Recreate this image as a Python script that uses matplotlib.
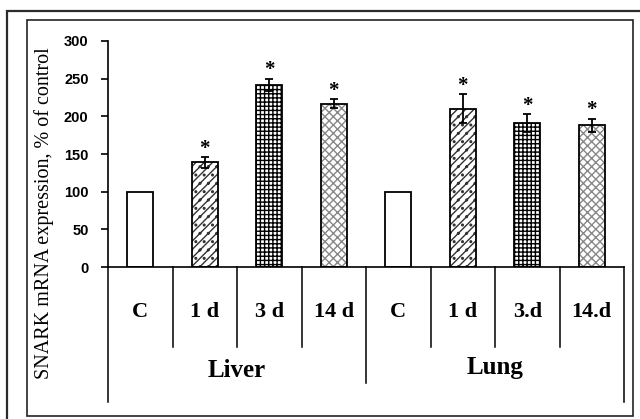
import matplotlib
matplotlib.use('Agg')
import matplotlib.pyplot as plt
from matplotlib.patches import Rectangle

# SNARK mRNA expression (% of control) in liver and lung
groups = ['Liver', 'Lung']
times = ['C', '1 d', '3 d', '14 d']
lung_times = ['C', '1 d', '3.d', '14.d']
liver_vals = [100, 139, 242, 217]
liver_err = [0, 7, 8, 6]
lung_vals = [100, 210, 191, 188]
lung_err = [0, 19, 12, 9]
significant = [False, True, True, True]

values = liver_vals + lung_vals
errors = liver_err + lung_err
labels = times + lung_times
stars = significant + significant
hatches = ['', '////..', '++++', 'xxxx'] * 2
hatch_colors = ['black', '#333333', 'black', '#888888'] * 2

W, H = 640, 419
fig = plt.figure(figsize=(W / 100, H / 100), dpi=100)
plt.rcParams['hatch.linewidth'] = 1.0

# outer and inner frames
fig.add_artist(Rectangle((7 / W, -0.02), 1.05, 1 - 11 / H + 0.02,
                         transform=fig.transFigure, fill=False,
                         edgecolor='#2b2b2b', linewidth=1.6))
fig.add_artist(Rectangle((27 / W, 1 - 416 / H), (633 - 27) / W, (416 - 20) / H,
                         transform=fig.transFigure, fill=False,
                         edgecolor='#222222', linewidth=1.2))

ax = fig.add_axes([108 / W, 1 - 267 / H, (624 - 108) / W, (267 - 41) / H])
x = list(range(len(values)))
for i in x:
    # hatch layer first, then the black outline on top
    ax.bar(i, values[i], width=0.41, facecolor='white',
           edgecolor=hatch_colors[i], linewidth=0, hatch=hatches[i], zorder=2)
    ax.bar(i, values[i], width=0.41, fill=False, edgecolor='black',
           linewidth=1.3, zorder=2)
    if errors[i] > 0:
        ax.errorbar(i, values[i], yerr=errors[i], fmt='none', ecolor='black',
                    elinewidth=1.3, capsize=3, capthick=1.3, zorder=3)
    if stars[i]:
        ax.text(i, values[i] + errors[i] + 11, '*', ha='center', va='center',
                fontsize=15, fontweight='bold', family='Liberation Serif')

ax.set_xlim(-0.5, 7.5)
ax.set_ylim(0, 300)
ax.set_yticks(range(0, 301, 50))
ax.set_xticks([])
ax.spines['top'].set_visible(False)
ax.spines['right'].set_visible(False)
ax.spines['left'].set_linewidth(1.2)
ax.spines['bottom'].set_linewidth(1.2)
ax.tick_params(axis='y', direction='out', length=5, width=1.2, pad=9)
for t in ax.get_yticklabels():
    t.set_fontfamily('Liberation Sans')
    t.set_fontweight('bold')
    t.set_fontsize(10.5)

# category table under the axis
upp = 300 / (267 - 41)  # data units per pixel
def ypix(p):
    return -(p - 267) * upp

for b in range(1, 8):
    if b == 4:
        continue
    ax.plot([b - 0.5, b - 0.5], [0, ypix(347)], color='black', lw=1.1,
            clip_on=False)
ax.plot([-0.5, -0.5], [0, ypix(402)], color='black', lw=1.1, clip_on=False)
ax.plot([7.5, 7.5], [0, ypix(402)], color='black', lw=1.1, clip_on=False)
ax.plot([3.5, 3.5], [0, ypix(383)], color='black', lw=1.1, clip_on=False)

for i in x:
    ax.text(i, ypix(312), labels[i], ha='center', va='center', fontsize=16,
            fontweight='bold', family='Liberation Serif', clip_on=False)
ax.text(1.5, ypix(370), groups[0], ha='center', va='center', fontsize=18,
        fontweight='bold', family='Liberation Serif')
ax.text(5.5, ypix(367), groups[1], ha='center', va='center', fontsize=18,
        fontweight='bold', family='Liberation Serif')

fig.text(44 / W, 1 - 213 / H, 'SNARK mRNA expression, % of control',
         rotation=90, ha='center', va='center', fontsize=14.5,
         family='Liberation Serif')

fig.savefig('out.png', dpi=100)
